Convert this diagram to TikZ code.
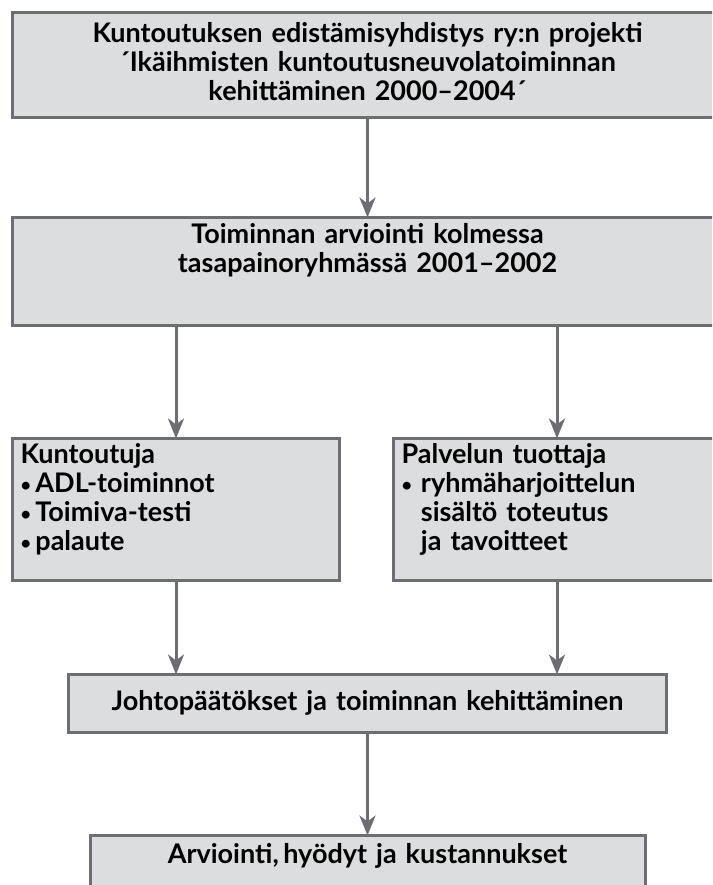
\documentclass[tikz,border=0pt]{standalone}
\usepackage{fontspec}
\setmainfont{Lato}
\usetikzlibrary{arrows.meta}

\definecolor{boxfill}{HTML}{DCDDDE}
\definecolor{boxline}{HTML}{6D6E71}

\newcommand{\bul}{\raisebox{1pt}{\fontsize{18}{18}\selectfont•}}

\tikzset{
	box/.style={draw=boxline, fill=boxfill, line width=3pt, inner sep=0pt, outer sep=0pt,
		anchor=north west, font=\bfseries\fontsize{27}{29}\selectfont},
	flow/.style={draw=boxline, line width=3pt, -{Stealth[length=20pt, width=16pt, inset=6pt]}},
}

\begin{document}
\begin{tikzpicture}[x=1pt, y=-1pt]
		\useasboundingbox (0,0) rectangle (712,885);
		\clip (0,0) rectangle (712,885);

		% boxes, top to bottom
		\node[box, text width=710pt, align=center, text height=30pt, text depth=75pt] (proj) at (12.5,12.5)
			{Kuntoutuksen edistämisyhdistys ry:n projekti\\´Ikäihmisten kuntoutusneuvolatoiminnan\\kehittäminen 2000–2004´};
		\node[box, text width=710pt, align=center, text height=26pt, text depth=82pt] (eval) at (12.5,217.5)
			{Toiminnan arviointi kolmessa\\tasapainoryhmässä 2001–2002};

		\node[box, text width=311pt, inner xsep=8pt, align=left, text height=25pt, text depth=117pt] (kunt) at (12.5,438.5)
			{Kuntoutuja\\\bul\,ADL-toiminnot\\\bul\,Toimiva-testi\\\bul\,palaute};
		\node[box, text width=311pt, inner xsep=8pt, align=left, text height=25pt, text depth=117pt] (palv) at (393.5,438.5)
			{Palvelun tuottaja\\\bul\ ryhmäharjoittelun\\\phantom{\bul\ }sisältö toteutus\\\phantom{\bul\ }ja tavoitteet};

		\node[box, text width=598pt, align=center, text height=36pt, text depth=22pt] (johto) at (68.5,674.5)
			{Johtopäätökset ja toiminnan kehittäminen};
		\node[box, text width=555pt, align=center, text height=28pt, text depth=61pt] (tulos) at (90,835.5)
			{Arviointi,\,hyödyt ja kustannukset};

		% arrows
		\draw[flow] (proj.south) -- (eval.north);
		\draw[flow] (eval.south -| kunt.north) -- (kunt.north);
		\draw[flow] (eval.south -| palv.north) -- (palv.north);
		\draw[flow] (kunt.south) -- (kunt.south |- johto.north);
		\draw[flow] (palv.south) -- (palv.south |- johto.north);
		\draw[flow] (johto.south) -- (tulos.north);

	\end{tikzpicture}
\end{document}
